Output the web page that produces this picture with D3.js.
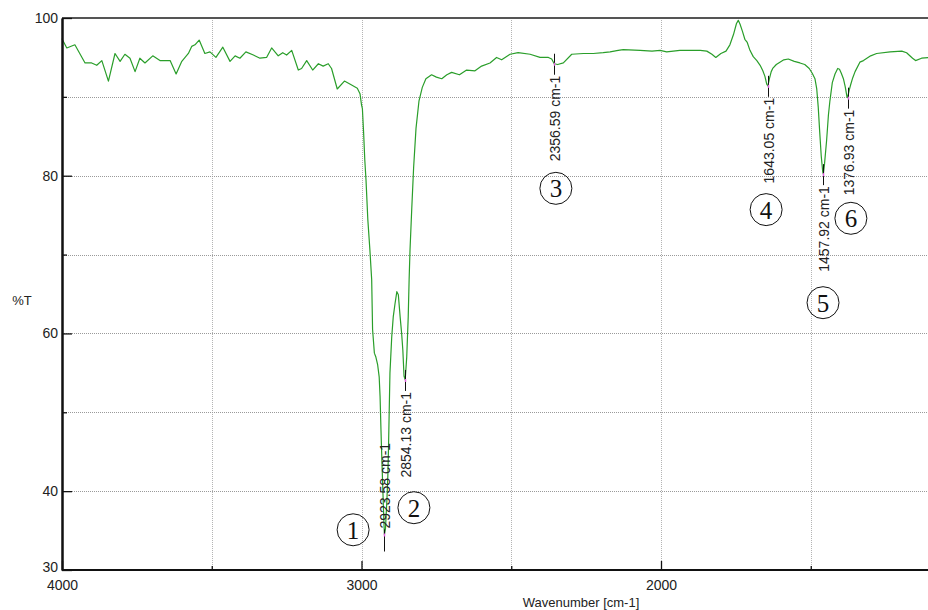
<!DOCTYPE html>
<html>
<head>
<meta charset="utf-8">
<script src="https://cdn.jsdelivr.net/npm/d3@7"></script>
<style>
  body { margin: 0; background: #fff; }
  svg { display: block; font-family: "Liberation Sans", Arial, sans-serif; }
</style>
</head>
<body>
<script>
// spectrum (wavenumber cm-1, %T)
const wavenumber = [4000, 3998, 3984, 3957, 3923, 3901, 3884, 3867, 3845, 3823, 3806, 3790, 3773, 3756, 3740, 3723, 3697, 3673, 3639, 3619, 3600, 3578, 3567, 3556, 3542, 3523, 3506, 3486, 3463, 3439, 3422, 3406, 3386, 3361, 3339, 3317, 3300, 3278, 3263, 3250, 3233, 3211, 3200, 3183, 3163, 3144, 3128, 3111, 3100, 3081, 3057, 3033, 3014, 3005, 3000,
  2997, 2993, 2989, 2985, 2979, 2972, 2966, 2963, 2957, 2952, 2946, 2941, 2938, 2935, 2933, 2929, 2926, 2923.58, 2920, 2915, 2912, 2910, 2905, 2899, 2894, 2888, 2882, 2877, 2871, 2866, 2862, 2858, 2854.13, 2849, 2844, 2841, 2838, 2832, 2826, 2818, 2808, 2797, 2785, 2766, 2750, 2732, 2715, 2699, 2673, 2649, 2621, 2599, 2571, 2549, 2532, 2504, 2477, 2437, 2404, 2376, 2365, 2356.59, 2345, 2326, 2298, 2259, 2226, 2193, 2170, 2143, 2126, 2070, 2030, 2003, 1981, 1937, 1900, 1869, 1847, 1830, 1817, 1800, 1783, 1770, 1758, 1748, 1742, 1736, 1728, 1720, 1712, 1703, 1692, 1680, 1669, 1660, 1653, 1647, 1643.05, 1638, 1632, 1627, 1615, 1603, 1590, 1575, 1555, 1536, 1520, 1505, 1495, 1486, 1480, 1475, 1470, 1465, 1460, 1457.92, 1454, 1447, 1441, 1436, 1428, 1419, 1410, 1404, 1398, 1391, 1385, 1379, 1376.93, 1372, 1367, 1360, 1352, 1336, 1324, 1300, 1280, 1235, 1196, 1180, 1160, 1150, 1130, 1100];
const transmittance = [97.4, 97.2, 96.2, 96.6, 94.3, 94.3, 94.0, 94.6, 92.0, 95.5, 94.5, 95.4, 94.9, 93.2, 94.9, 94.3, 95.2, 94.6, 94.6, 92.9, 94.5, 95.5, 96.4, 96.6, 97.2, 95.5, 95.7, 95.0, 96.3, 94.5, 95.2, 94.9, 95.7, 95.3, 94.9, 95.0, 96.2, 95.2, 95.6, 95.3, 95.9, 93.4, 93.6, 94.6, 93.4, 94.2, 93.9, 94.2, 93.6, 91.0, 92.0, 91.5, 91.1, 90.4, 89.0,
  88.5, 85.5, 82.0, 79.5, 74.5, 70.6, 66.8, 60.5, 57.5, 57.0, 56.0, 54.5, 52.0, 47.8, 45.2, 40.5, 37.0, 34.5, 35.2, 39.0, 42.0, 45.2, 55.0, 59.6, 62.1, 63.8, 65.3, 64.9, 62.1, 60.0, 57.9, 54.6, 54.1, 57.0, 62.1, 66.8, 70.6, 76.0, 81.0, 86.0, 89.5, 91.2, 92.3, 92.8, 92.5, 92.3, 92.8, 93.1, 92.8, 93.4, 93.3, 93.9, 94.3, 95.0, 94.7, 95.4, 95.6, 95.4, 95.0, 95.0, 94.8, 94.2, 94.1, 94.3, 95.4, 95.5, 95.5, 95.6, 95.7, 95.9, 96.0, 95.9, 95.8, 95.9, 95.7, 95.9, 95.9, 95.9, 95.8, 95.4, 95.0, 95.5, 95.8, 96.6, 97.9, 99.3, 99.7, 99.2, 98.3, 97.3, 96.9, 95.9, 95.1, 94.6, 94.0, 93.3, 92.6, 91.6, 91.4, 92.3, 93.2, 93.6, 94.1, 94.4, 94.7, 94.8, 94.5, 94.3, 94.1, 93.6, 93.0, 92.3, 91.0, 88.7, 85.5, 82.5, 80.5, 80.2, 81.5, 84.5, 87.7, 89.5, 91.8, 92.9, 93.6, 93.5, 93.0, 92.3, 91.3, 90.0, 89.9, 90.8, 91.5, 92.4, 93.2, 94.4, 94.6, 95.2, 95.5, 95.7, 95.8, 95.6, 94.9, 94.6, 94.9, 95.0];

// picked peaks
const peakWn = [2923.58, 2854.13, 2356.59, 1643.05, 1457.92, 1376.93];
const peakT = [34.5, 54.1, 94.2, 91.4, 80.2, 89.9];
// circled numbers, placed in chart units
const circleNum = ["1", "2", "3", "4", "5", "6"];
const circleWn = [3028, 2825, 2351, 1649, 1459, 1366];
const circleT = [35.1, 37.9, 78.4, 75.7, 63.9, 74.6];

const xMajor = [4000, 3000, 2000];
const xMinor = [3500, 2500, 1500];
const yMajor = [100, 80, 60, 40, 30];
const yMinor = [90, 70, 50];
const xGrid = [3500, 3000, 2500, 2000, 1500];
const yGrid = [90, 80, 70, 60, 50, 40];

const width = 928, height = 610;
const margin = {top: 18, left: 62, bottom: 40};
const plotH = height - margin.top - margin.bottom;

const x = d3.scaleLinear().domain([4000, 1100]).range([margin.left, margin.left + 2900 * 0.2995]);
const y = d3.scaleLinear().domain([30, 100]).range([margin.top + plotH, margin.top]);

let svg = d3.select("body").append("svg")
  .attr("width", width)
  .attr("height", height);

// grid
svg.append("g").selectAll("line")
  .data(xGrid)
  .join("line")
    .attr("x1", d => Math.round(x(d)) + 0.5).attr("x2", d => Math.round(x(d)) + 0.5)
    .attr("y1", y(100)).attr("y2", y(30))
    .attr("stroke", "#b4b4b4").attr("stroke-dasharray", "1,1");

svg.append("g").selectAll("line")
  .data(yGrid)
  .join("line")
    .attr("x1", x(4000)).attr("x2", width)
    .attr("y1", d => Math.round(y(d)) + 0.5).attr("y2", d => Math.round(y(d)) + 0.5)
    .attr("stroke", "#9a9a9a").attr("stroke-dasharray", "1,1");

// top border
svg.append("line")
  .attr("x1", x(4000)).attr("x2", width)
  .attr("y1", y(100)).attr("y2", y(100))
  .attr("stroke", "#555").attr("stroke-width", 2);

// spectrum
let line = d3.line()
  .x((d, i) => x(wavenumber[i]))
  .y(d => y(d));

svg.append("path")
  .datum(transmittance)
  .attr("d", line)
  .attr("fill", "none")
  .attr("stroke", "#2a9e2a")
  .attr("stroke-width", 1.2)
  .attr("stroke-linejoin", "round");

// axes
function styleAxis(g) {
  g.attr("font-family", null);
  g.select(".domain").attr("stroke", "#111").attr("stroke-width", 2);
  g.selectAll(".tick line").attr("stroke", "#111").attr("stroke-width", 1.3);
  g.selectAll("text").attr("fill", "#222").style("font-size", "14px");
}

svg.append("g")
  .attr("transform", `translate(${margin.left},0)`)
  .call(d3.axisLeft(y).tickValues(yMinor).tickSizeInner(-5).tickSizeOuter(0).tickFormat(""))
  .call(styleAxis);

svg.append("g")
  .attr("transform", `translate(${margin.left},0)`)
  .call(d3.axisLeft(y).tickValues(yMajor).tickSizeInner(-10).tickSizeOuter(0).tickPadding(4).tickFormat(d3.format("d")))
  .call(styleAxis)
  .call(g => g.selectAll(".tick text").filter(d => d === 30).attr("dy", "0.1em"));

svg.append("g")
  .attr("transform", `translate(0,${y(30)})`)
  .call(d3.axisBottom(x).tickValues(xMinor).tickSizeInner(-4).tickSizeOuter(0).tickFormat(""))
  .call(styleAxis)
  .call(g => g.select(".domain").attr("d", `M${x(4000)},0H${width}`));

svg.append("g")
  .attr("transform", `translate(0,${y(30)})`)
  .call(d3.axisBottom(x).tickValues(xMajor).tickSizeInner(-9).tickSizeOuter(0).tickPadding(10).tickFormat(d3.format("d")))
  .call(styleAxis)
  .call(g => g.select(".domain").attr("d", `M${x(4000)},0H${width}`));

// axis titles
svg.append("text")
  .attr("x", 22).attr("y", 305)
  .attr("text-anchor", "middle")
  .style("font-size", "13px").attr("fill", "#222")
  .text("%T");

svg.append("text")
  .attr("x", 581).attr("y", 607)
  .attr("text-anchor", "middle")
  .style("font-size", "13px").attr("fill", "#222")
  .text("Wavenumber [cm-1]");

// peak labels
const labelLen = 88;
peakWn.forEach((wn, i) => {
  const px = Math.round(x(wn)) + 0.5;
  const py = y(peakT[i]);
  const flip = py + 12 + labelLen > y(30);
  let g = svg.append("g");
  g.append("line")
    .attr("x1", px).attr("x2", px)
    .attr("y1", flip ? py + 17 : py - 10)
    .attr("y2", flip ? py - 5 : py + 11)
    .attr("stroke", "#111");
  g.append("line")
    .attr("x1", px).attr("x2", px)
    .attr("y1", py - 1).attr("y2", py + 2)
    .attr("stroke", "#e060e0").attr("stroke-width", 1.5);
  g.append("text")
    .attr("transform", `translate(${px},${flip ? py - 6 : py + 12}) rotate(-90)`)
    .attr("text-anchor", flip ? "start" : "end")
    .attr("dy", "0.38em")
    .style("font-size", "14px").attr("fill", "#222")
    .text(`${wn.toFixed(2)} cm-1`);
});

// circled numbers
let circles = svg.append("g").selectAll("g")
  .data(circleNum)
  .join("g")
    .attr("transform", (d, i) => `translate(${x(circleWn[i])},${y(circleT[i])})`);

circles.append("circle")
  .attr("r", 16)
  .attr("fill", "none")
  .attr("stroke", "#111")
  .attr("stroke-width", 1);

circles.append("text")
  .attr("text-anchor", "middle")
  .attr("dy", "0.36em")
  .style("font-family", "'Liberation Serif', 'DejaVu Serif', serif")
  .style("font-size", "25px")
  .attr("fill", "#111")
  .text(d => d);
</script>
</body>
</html>
